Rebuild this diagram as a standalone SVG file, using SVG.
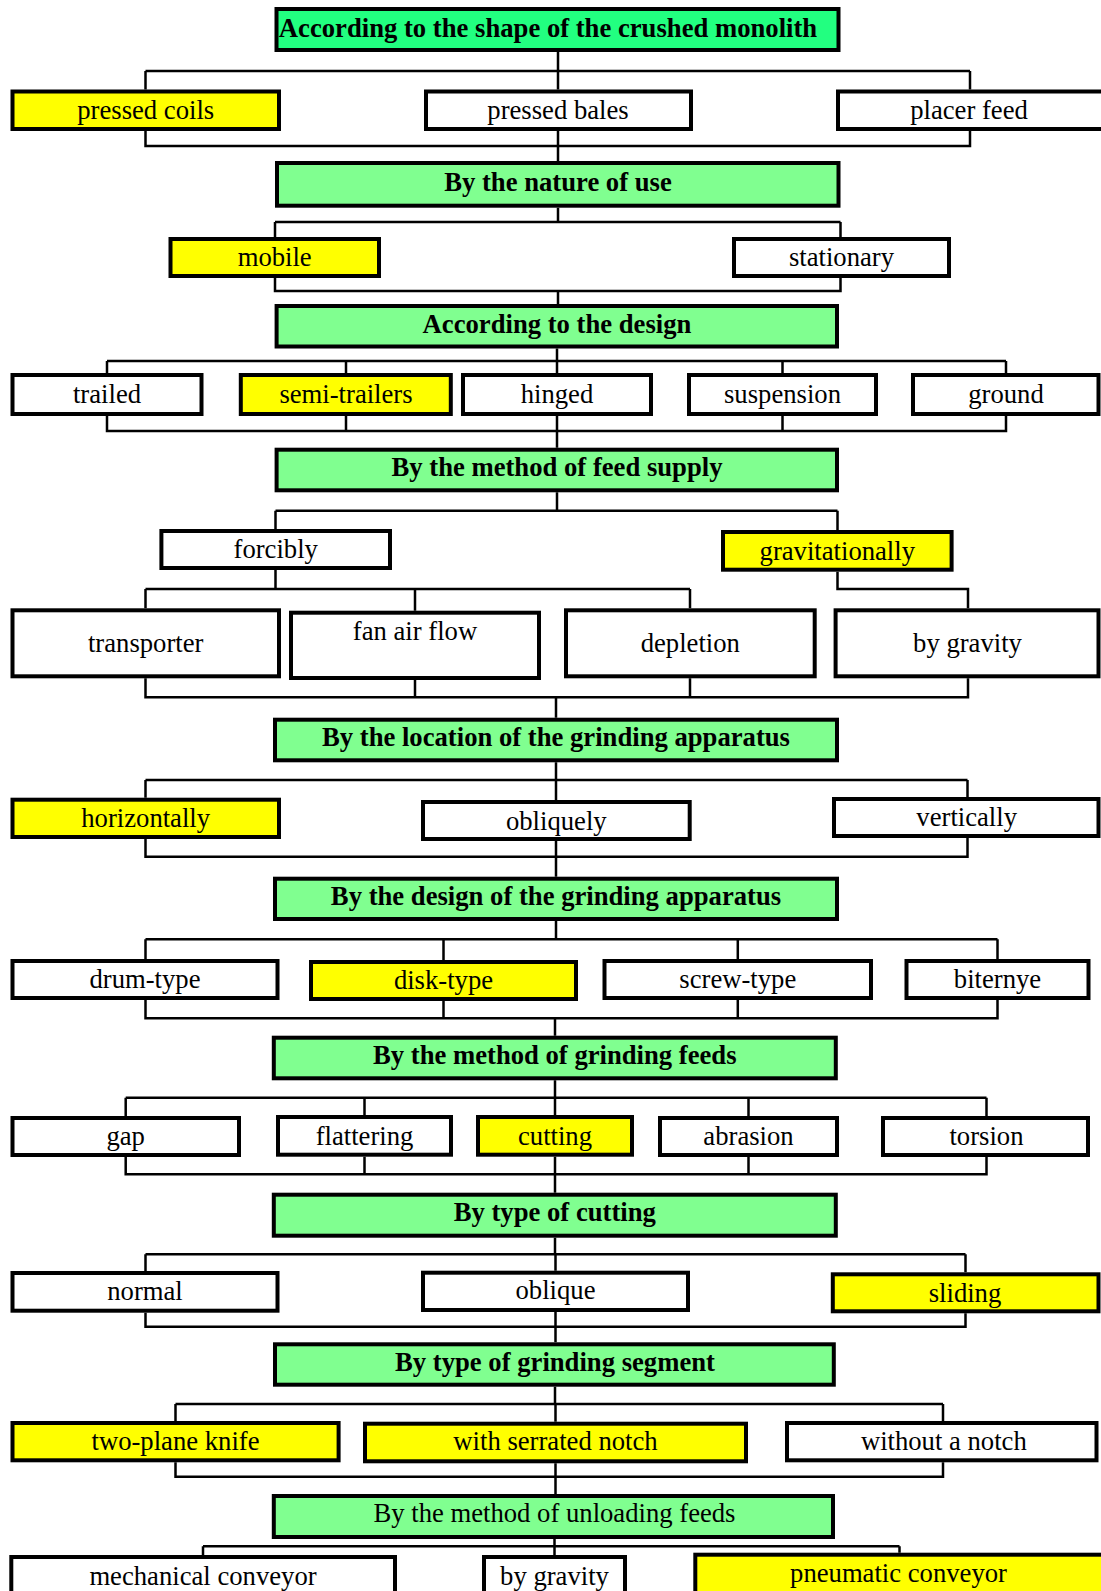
<svg xmlns="http://www.w3.org/2000/svg" width="1101" height="1591" viewBox="0 0 1101 1591">
<style>
.b{stroke:#000;stroke-width:4;fill:#fff}
.y{fill:#ffff00}
.g{fill:#80ff90}
.g0{fill:#22ff80}
text{font-family:"Liberation Serif","Times New Roman",serif;font-size:26.67px;fill:#000;text-anchor:middle}
.t{font-weight:bold}
#conn path{fill:none;stroke:#000;stroke-width:2.5}
</style>
<rect width="1101" height="1591" fill="#fff"/>
<g id="conn">
<path d="M558 52V71M145.5 71H970M145.5 71V89.5M558 71V89.5M970 71V89.5M145.5 131V146H970V131M558 131V161"/>
<path d="M558 207.7V222M275 222H840.5M275 222V237M840.5 222V237M275 278V291H840.5V278M558 291V304"/>
<path d="M557 348.5V361M107 361H1006M107 361V373M346 361V373M557 361V373M782.5 361V373M1006 361V373M107 416V431H1006V416M346 416V431M557 416V447.7M782.5 416V431"/>
<path d="M557 492.3V510.7M275.5 510.7H837.5M275.5 510.7V529M837.5 510.7V530M275.5 570V589M145.5 589H690M145.5 589V608.3M415 589V610.7M690 589V608.3M837.5 571.7V589H968V608.3M145.5 678.3V697.3H968V678.3M415 680V697.3M690 678.3V697.3M556 697.3V717.7"/>
<path d="M556 762.3V780M145.5 780H967.5M145.5 780V797.7M556 780V800M967.5 780V797M145.5 839V856.7H967.5V838M556 841V876.7"/>
<path d="M556 921V939.3M145.5 939.3H997.5M145.5 939.3V959M443.5 939.3V960M737.8 939.3V959M997.5 939.3V959M145.5 1000V1018.3H997.5V1000M443.5 1001V1018.3M737.8 1000V1018.3M555 1018.3V1035.7"/>
<path d="M555 1080.3V1097.7M125.7 1097.7H986.5M125.7 1097.7V1116M364.5 1097.7V1115M555 1097.7V1115M748.5 1097.7V1116M986.5 1097.7V1116M125.7 1157V1174.3H986.5V1157M364.5 1156.7V1174.3M748.5 1157V1174.3M555 1156.7V1192.7"/>
<path d="M555 1237.7V1254.3M145.5 1254.3H965.5M145.5 1254.3V1271M555.5 1254.3V1270.7M965.5 1254.3V1272.3M145.5 1312.7V1326.7H965.5V1313.3M555.5 1312V1342.3"/>
<path d="M555 1386.7V1404M175.5 1404H943M175.5 1404V1421M555.5 1404V1421.7M943 1404V1421M175.5 1462.3V1476.7H943V1462.3M555.5 1463.3V1494"/>
<path d="M554.5 1539V1546.3M203 1546.3H899.5M203 1546.3V1555M554.5 1546.3V1555M899.5 1546.3V1552.7"/>
</g>
<g id="n-shape"><rect class="b g0" x="276.5" y="9" width="562" height="41"/><text class="t" x="548" y="37">According to the shape of the crushed monolith</text></g>
<g id="n-coils"><rect class="b y" x="12.5" y="91.5" width="266.5" height="37.5"/><text x="145.7" y="119">pressed coils</text></g>
<g id="n-bales"><rect class="b" x="426" y="91.5" width="265" height="37.5"/><text x="558" y="119">pressed bales</text></g>
<g id="n-placer"><rect class="b" x="838" y="91.5" width="270" height="37.5"/><text x="969" y="119">placer feed</text></g>

<g id="n-use"><rect class="b g" x="277" y="163" width="561.5" height="42.7"/><text class="t" x="558" y="191">By the nature of use</text></g>
<g id="n-mobile"><rect class="b y" x="170.5" y="239" width="208.5" height="37"/><text x="274.7" y="266">mobile</text></g>
<g id="n-stationary"><rect class="b" x="734" y="239" width="215" height="37"/><text x="841.5" y="266">stationary</text></g>

<g id="n-design"><rect class="b g" x="276.6" y="306" width="560.4" height="40.5"/><text class="t" x="557" y="332.7">According to the design</text></g>
<g id="n-trailed"><rect class="b" x="12.5" y="375" width="189" height="39"/><text x="107" y="402.5">trailed</text></g>
<g id="n-semi"><rect class="b y" x="240.8" y="375" width="210" height="39"/><text x="346" y="402.5">semi-trailers</text></g>
<g id="n-hinged"><rect class="b" x="463" y="375" width="188" height="39"/><text x="557" y="402.5">hinged</text></g>
<g id="n-suspension"><rect class="b" x="689" y="375" width="187" height="39"/><text x="782.5" y="402.5">suspension</text></g>
<g id="n-ground"><rect class="b" x="913" y="375" width="185.5" height="39"/><text x="1006" y="402.5">ground</text></g>

<g id="n-supply"><rect class="b g" x="276.6" y="449.7" width="560.4" height="40.6"/><text class="t" x="557" y="476">By the method of feed supply</text></g>
<g id="n-forcibly"><rect class="b" x="161.4" y="531" width="228.6" height="37"/><text x="275.7" y="558">forcibly</text></g>
<g id="n-grav"><rect class="b y" x="723" y="532" width="228.6" height="37.7"/><text x="837.3" y="559.5">gravitationally</text></g>
<g id="n-transporter"><rect class="b" x="12.5" y="610.3" width="266.5" height="66"/><text x="145.7" y="651.5">transporter</text></g>
<g id="n-fan"><rect class="b" x="291" y="612.7" width="248" height="65.3"/><text x="415" y="639.5">fan air flow</text></g>
<g id="n-depletion"><rect class="b" x="566" y="610.3" width="248.7" height="66"/><text x="690.3" y="651.5">depletion</text></g>
<g id="n-bygravity1"><rect class="b" x="835.6" y="610.3" width="262.9" height="66"/><text x="967.5" y="651.5">by gravity</text></g>

<g id="n-location"><rect class="b g" x="275" y="719.7" width="562" height="40.6"/><text class="t" x="556" y="746">By the location of the grinding apparatus</text></g>
<g id="n-horiz"><rect class="b y" x="12.5" y="799.7" width="266.5" height="37.3"/><text x="145.7" y="827">horizontally</text></g>
<g id="n-obliquely"><rect class="b" x="423" y="802" width="266.7" height="37"/><text x="556.3" y="829.7">obliquely</text></g>
<g id="n-vert"><rect class="b" x="834" y="799" width="264.5" height="37"/><text x="966.7" y="825.5">vertically</text></g>

<g id="n-dga"><rect class="b g" x="275" y="878.7" width="562" height="40.3"/><text class="t" x="556" y="905">By the design of the grinding apparatus</text></g>
<g id="n-drum"><rect class="b" x="12.5" y="961" width="265" height="37"/><text x="145" y="987.5">drum-type</text></g>
<g id="n-disk"><rect class="b y" x="311" y="962" width="265" height="37"/><text x="443.5" y="988.7">disk-type</text></g>
<g id="n-screw"><rect class="b" x="604.5" y="961" width="266.5" height="37"/><text x="737.8" y="987.5">screw-type</text></g>
<g id="n-biternye"><rect class="b" x="906.5" y="961" width="182" height="37"/><text x="997.5" y="987.5">biternye</text></g>

<g id="n-mgf"><rect class="b g" x="273.8" y="1037.7" width="562" height="40.6"/><text class="t" x="554.8" y="1063.7">By the method of grinding feeds</text></g>
<g id="n-gap"><rect class="b" x="12.5" y="1118" width="226.5" height="37"/><text x="125.7" y="1144.8">gap</text></g>
<g id="n-flattering"><rect class="b" x="278" y="1117" width="173" height="37.7"/><text x="364.5" y="1144.8">flattering</text></g>
<g id="n-cutting"><rect class="b y" x="478" y="1117" width="154" height="37.7"/><text x="555" y="1144.8">cutting</text></g>
<g id="n-abrasion"><rect class="b" x="660" y="1118" width="177" height="37"/><text x="748.5" y="1144.8">abrasion</text></g>
<g id="n-torsion"><rect class="b" x="883" y="1118" width="205" height="37"/><text x="986.5" y="1144.8">torsion</text></g>

<g id="n-toc"><rect class="b g" x="273.8" y="1194.7" width="562" height="41"/><text class="t" x="554.8" y="1221">By type of cutting</text></g>
<g id="n-normal"><rect class="b" x="12.5" y="1273" width="265" height="37.7"/><text x="145" y="1299.8">normal</text></g>
<g id="n-oblique"><rect class="b" x="423" y="1272.7" width="265" height="37.3"/><text x="555.5" y="1298.8">oblique</text></g>
<g id="n-sliding"><rect class="b y" x="832.8" y="1274.3" width="265.7" height="37"/><text x="965" y="1301.5">sliding</text></g>

<g id="n-segment"><rect class="b g" x="275" y="1344.3" width="558.8" height="40.4"/><text class="t" x="555" y="1371">By type of grinding segment</text></g>
<g id="n-twoplane"><rect class="b y" x="12.5" y="1423" width="326.1" height="37.3"/><text x="175.5" y="1449.8">two-plane knife</text></g>
<g id="n-serrated"><rect class="b y" x="365" y="1423.7" width="381" height="37.6"/><text x="555.5" y="1449.8">with serrated notch</text></g>
<g id="n-without"><rect class="b" x="787" y="1423" width="309.5" height="37.3"/><text x="943.8" y="1449.8">without a notch</text></g>

<g id="n-unload"><rect class="b g" x="273.8" y="1496" width="559.2" height="41"/><text x="554.5" y="1521.5">By the method of unloading feeds</text></g>
<g id="n-mech"><rect class="b" x="11.3" y="1557" width="383.7" height="50"/><text x="203" y="1585">mechanical conveyor</text></g>
<g id="n-bygravity2"><rect class="b" x="484" y="1557" width="141" height="50"/><text x="554.5" y="1585">by gravity</text></g>
<g id="n-pneu"><rect class="b y" x="695.3" y="1554.7" width="420" height="50"/><text x="898.5" y="1581.5">pneumatic conveyor</text></g>
</svg>
